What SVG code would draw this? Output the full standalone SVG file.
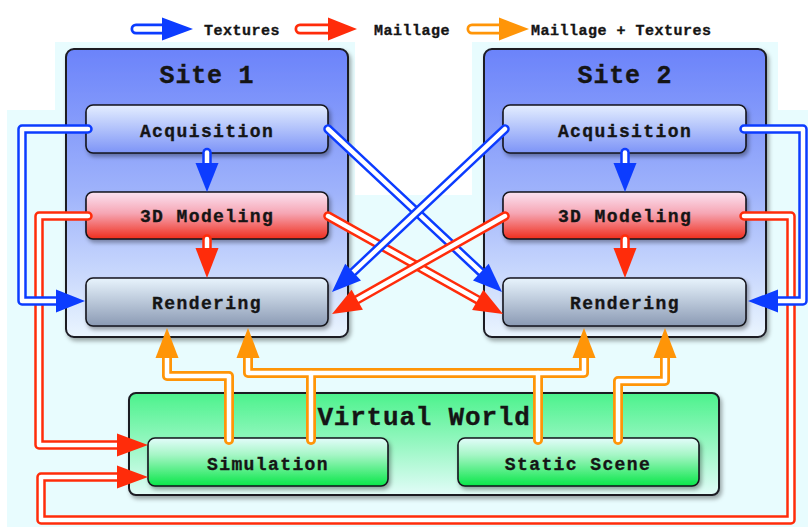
<svg xmlns="http://www.w3.org/2000/svg" width="808" height="527" viewBox="0 0 808 527">
<defs>
<linearGradient id="gSite" x1="0" y1="0" x2="0" y2="1">
<stop offset="0" stop-color="#6b83fa"/><stop offset="0.5" stop-color="#9fb3fb"/><stop offset="1" stop-color="#eaf5fe"/>
</linearGradient>
<linearGradient id="gAcq" x1="0" y1="0" x2="0" y2="1">
<stop offset="0" stop-color="#e4eeff"/><stop offset="1" stop-color="#7d94f7"/>
</linearGradient>
<linearGradient id="gMod" x1="0" y1="0" x2="0" y2="1">
<stop offset="0" stop-color="#fbe3f2"/><stop offset="0.45" stop-color="#f6a6b4"/><stop offset="1" stop-color="#ef2d1c"/>
</linearGradient>
<linearGradient id="gRen" x1="0" y1="0" x2="0" y2="1">
<stop offset="0" stop-color="#e8f4fd"/><stop offset="1" stop-color="#8b9ab4"/>
</linearGradient>
<linearGradient id="gVW" x1="0" y1="0" x2="0" y2="1">
<stop offset="0" stop-color="#4cf28c"/><stop offset="1" stop-color="#e2fcf8"/>
</linearGradient>
<linearGradient id="gSim" x1="0" y1="0" x2="0" y2="1">
<stop offset="0" stop-color="#e3fcfb"/><stop offset="0.35" stop-color="#a6f6c6"/><stop offset="1" stop-color="#08e648"/>
</linearGradient>
<filter id="sh" x="-10%" y="-10%" width="120%" height="130%">
<feDropShadow dx="2" dy="3" stdDeviation="2" flood-color="#000" flood-opacity="0.35"/>
</filter>
<style>
.box{stroke:#1b1b24;stroke-width:2}
.node{stroke:#15151c;stroke-width:1.6}
.t{font-family:"Liberation Mono","DejaVu Sans Mono",monospace;font-weight:bold;fill:#151515;stroke:#151515;stroke-width:0.35;text-anchor:middle}
.nt{font-size:18px;letter-spacing:1.4px}
.tt{font-size:25px;letter-spacing:0.8px}
.lt{font-size:15px;letter-spacing:0.5px;text-anchor:start}
.o{fill:none;stroke-linecap:round;stroke-linejoin:round;stroke-width:9.5}
.i{fill:none;stroke:#fff;stroke-linecap:round;stroke-linejoin:round;stroke-width:4.5}
.oo{fill:none;stroke:#ff9508;stroke-linecap:round;stroke-linejoin:round;stroke-width:10}
.oi{fill:none;stroke:#fff;stroke-linecap:round;stroke-linejoin:round;stroke-width:4.5}
.lo{fill:none;stroke-linecap:round;stroke-width:11}
.li{fill:none;stroke:#fff;stroke-linecap:round;stroke-width:5.5}
.b{stroke:#0c3cff}
.r{stroke:#ff2c0a}
.bf{fill:#0c3cff}
.rf{fill:#ff2c0a}
.of{fill:#ff9508}
</style>
</defs>

<!-- background -->
<rect x="0" y="0" width="808" height="527" fill="#ffffff"/>
<g id="background" fill="#e8fcfe">
<rect x="7" y="110" width="801" height="417"/>
<rect x="55" y="42" width="300" height="70"/>
<rect x="472" y="42" width="306" height="70"/>
<rect x="355" y="105" width="117" height="90" fill="#ffffff"/>
</g>

<!-- legend -->
<g id="legend">
<path class="lo b" d="M136,29 H162"/><path class="li" d="M136,29 H162"/>
<polygon class="bf" points="162,17.5 193,29 162,40.5"/>
<text class="t lt" x="204" y="35">Textures</text>
<path class="lo r" d="M300,29 H328"/><path class="li" d="M300,29 H328"/>
<polygon class="rf" points="328,17.5 357,29 328,40.5"/>
<text class="t lt" x="374" y="35">Maillage</text>
<path class="lo" stroke="#ff9508" d="M472,29 H499"/><path class="li" d="M472,29 H499"/>
<polygon class="of" points="499,17.5 529,29 499,40.5"/>
<text class="t lt" x="531" y="35">Maillage + Textures</text>
</g>

<!-- Site 1 -->
<g id="site1">
<rect class="box" x="66" y="49" width="282" height="288" rx="8" fill="url(#gSite)" filter="url(#sh)"/>
<text class="t tt" x="207" y="83">Site 1</text>
</g>
<g id="site1-acquisition">
<rect class="node" x="86" y="105" width="242" height="48" rx="7" fill="url(#gAcq)" filter="url(#sh)"/>
<text class="t nt" x="207" y="137">Acquisition</text>
</g>
<g id="site1-modeling">
<rect class="node" x="86" y="192" width="242" height="47" rx="7" fill="url(#gMod)" filter="url(#sh)"/>
<text class="t nt" x="207" y="222">3D Modeling</text>
</g>
<g id="site1-rendering">
<rect class="node" x="86" y="278" width="242" height="48" rx="7" fill="url(#gRen)" filter="url(#sh)"/>
<text class="t nt" x="207" y="309">Rendering</text>
</g>

<!-- Site 2 -->
<g id="site2">
<rect class="box" x="484" y="49" width="282" height="288" rx="8" fill="url(#gSite)" filter="url(#sh)"/>
<text class="t tt" x="625" y="83">Site 2</text>
</g>
<g id="site2-acquisition">
<rect class="node" x="503" y="105" width="243" height="48" rx="7" fill="url(#gAcq)" filter="url(#sh)"/>
<text class="t nt" x="625" y="137">Acquisition</text>
</g>
<g id="site2-modeling">
<rect class="node" x="503" y="192" width="243" height="47" rx="7" fill="url(#gMod)" filter="url(#sh)"/>
<text class="t nt" x="625" y="222">3D Modeling</text>
</g>
<g id="site2-rendering">
<rect class="node" x="503" y="278" width="243" height="48" rx="7" fill="url(#gRen)" filter="url(#sh)"/>
<text class="t nt" x="625" y="309">Rendering</text>
</g>

<!-- Virtual World -->
<g id="virtual-world">
<rect class="box" x="129" y="393" width="590" height="102" rx="7" fill="url(#gVW)" filter="url(#sh)"/>
<text class="t" x="424" y="425" style="font-size:26px;letter-spacing:0.8px">Virtual World</text>
</g>
<g id="simulation">
<rect class="node" x="148" y="438" width="240" height="48" rx="7" fill="url(#gSim)" filter="url(#sh)"/>
<text class="t nt" x="268" y="470">Simulation</text>
</g>
<g id="static-scene">
<rect class="node" x="458" y="438" width="241" height="48" rx="7" fill="url(#gSim)" filter="url(#sh)"/>
<text class="t nt" x="578" y="470">Static Scene</text>
</g>

<!-- connectors -->
<g id="connectors">
<!-- internal vertical arrows -->
<path class="o b" d="M207,152.5 V164"/><path class="i" d="M207,152.5 V164"/>
<polygon class="bf" points="195.5,163 218.5,163 207,192"/>
<path class="o r" d="M207,239 V249"/><path class="i" d="M207,239 V249"/>
<polygon class="rf" points="195.5,248 218.5,248 207,278"/>
<path class="o b" d="M625,152.5 V164"/><path class="i" d="M625,152.5 V164"/>
<polygon class="bf" points="613.5,163 636.5,163 625,192"/>
<path class="o r" d="M625,239 V249"/><path class="i" d="M625,239 V249"/>
<polygon class="rf" points="613.5,248 636.5,248 625,278"/>

<!-- red loops to Simulation -->
<path class="o r" d="M88,216 H39 V445 H118"/><path class="i" d="M88,216 H39 V445 H118"/>
<polygon class="rf" points="117,433.5 148,445 117,456.5"/>
<path class="o r" d="M744,216 H791 V520 H41 V477 H118"/><path class="i" d="M744,216 H791 V520 H41 V477 H118"/>
<polygon class="rf" points="117,465.5 148,477 117,488.5"/>

<!-- blue loops to Rendering -->
<path class="o b" d="M88,129 H22 V301 H57"/><path class="i" d="M88,129 H22 V301 H57"/>
<polygon class="bf" points="56,289.5 85,301 56,312.5"/>
<path class="o b" d="M744,129 H803 V301 H777"/><path class="i" d="M744,129 H803 V301 H777"/>
<polygon class="bf" points="778,289.5 748,301 778,312.5"/>

<!-- crossing diagonals -->
<path class="o b" d="M328,129 L481,272.2"/><path class="i" d="M328,129 L481,272.2"/>
<polygon class="bf" points="473,280.6 488.7,263.8 502,292"/>
<path class="o r" d="M328,216 L477.7,299.8"/><path class="i" d="M328,216 L477.7,299.8"/>
<polygon class="rf" points="472.1,309.9 483.3,289.8 503,314"/>
<path class="o b" d="M505,129 L353.1,272.1"/><path class="i" d="M505,129 L353.1,272.1"/>
<polygon class="bf" points="345.2,263.7 361,280.5 332,292"/>
<path class="o r" d="M505,216 L357.2,299.7"/><path class="i" d="M505,216 L357.2,299.7"/>
<polygon class="rf" points="351.6,289.7 362.9,309.7 332,314"/>

<!-- orange: Maillage + Textures -->
<g>
<path class="oo" d="M229,440 V376 H167 V357"/>
<path class="oo" d="M311,440 V373"/>
<path class="oo" d="M538,440 V373 H248 V357"/>
<path class="oo" d="M538,373 H584 V357"/>
<path class="oo" d="M618,440 V381 H665 V357"/>
<path class="oi" d="M229,440 V376 H167 V357"/>
<path class="oi" d="M311,440 V373"/>
<path class="oi" d="M538,440 V373 H248 V357"/>
<path class="oi" d="M538,373 H584 V357"/>
<path class="oi" d="M618,440 V381 H665 V357"/>
<polygon class="of" points="155.5,358 178.5,358 167,328"/>
<polygon class="of" points="236.5,358 259.5,358 248,328"/>
<polygon class="of" points="572.5,358 595.5,358 584,328"/>
<polygon class="of" points="653.5,358 676.5,358 665,328"/>
</g>
</g>
</svg>
